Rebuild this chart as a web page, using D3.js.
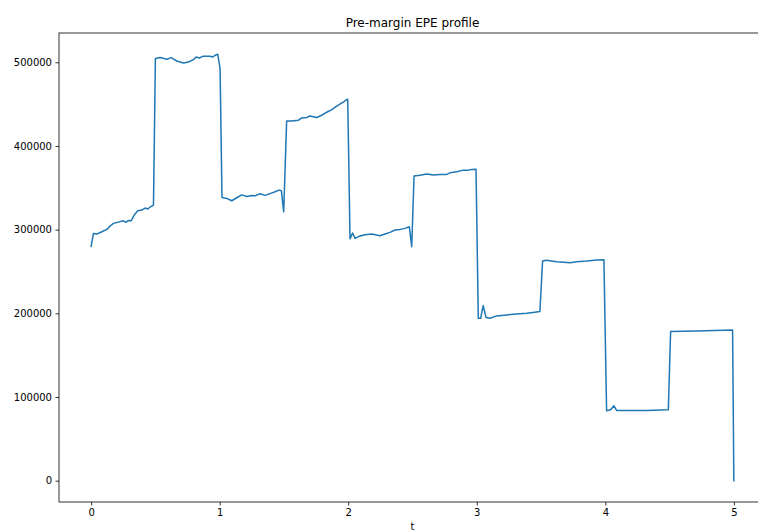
<!DOCTYPE html>
<html>
<head>
<meta charset="utf-8">
<script src="https://cdn.jsdelivr.net/npm/d3@7"></script>
<style>
  html, body { margin: 0; padding: 0; background: #fff; }
  svg { display: block; font-family: "DejaVu Sans", sans-serif; }
</style>
</head>
<body>
<svg id="chart" width="758" height="531"></svg>
<script>
// Pre-margin expected positive exposure over time
const tValues = [
  0.000, 0.018, 0.044, 0.083, 0.122, 0.148, 0.173, 0.207, 0.233, 0.251,
  0.270, 0.290, 0.311, 0.337, 0.363, 0.394, 0.420, 0.441, 0.461, 0.485,
  0.500, 0.537, 0.589, 0.622, 0.666, 0.718, 0.757, 0.796, 0.817, 0.842,
  0.868, 0.925, 0.946, 0.964, 0.985, 1.003,
  1.018, 1.055, 1.094, 1.133, 1.172, 1.211, 1.250, 1.275, 1.314, 1.353,
  1.392, 1.431, 1.462, 1.480, 1.498,
  1.521, 1.561, 1.613, 1.638, 1.677, 1.703, 1.755, 1.794, 1.833, 1.872,
  1.911, 1.941, 1.962, 1.980, 1.996,
  2.014, 2.034, 2.053, 2.092, 2.131, 2.183, 2.247, 2.286, 2.325, 2.364,
  2.403, 2.442, 2.475, 2.494,
  2.512, 2.558, 2.610, 2.662, 2.714, 2.766, 2.792, 2.844, 2.895, 2.934,
  2.960, 2.994,
  3.012, 3.030, 3.050, 3.072, 3.103, 3.155, 3.233, 3.310, 3.388, 3.453,
  3.491,
  3.512, 3.543, 3.621, 3.725, 3.777, 3.855, 3.932, 3.989,
  4.010, 4.041, 4.067, 4.088, 4.191, 4.321, 4.490,
  4.508, 4.710, 4.990, 5.000
];
const epeValues = [
  280000, 295500, 294700, 297500, 300300, 304300, 307500, 308700, 309900, 310600,
  308700, 311000, 310600, 317800, 322500, 323400, 325800, 324600, 327300, 329300,
  504400, 505600, 503600, 505600, 501500, 499100, 500300, 503200, 506300, 505100,
  507100, 507100, 506300, 508300, 509500, 492500,
  338300, 337300, 334500, 338100, 341500, 339700, 340900, 340400, 342800, 340900,
  343000, 345200, 347200, 346400, 321300,
  429800, 429800, 430800, 433500, 434000, 435900, 434000, 436700, 440300, 443500,
  447500, 450700, 452300, 454600, 455800,
  289000, 296000, 289600, 292500, 294000, 294700, 292700, 294700, 296700, 299500,
  300300, 301500, 303500, 279600,
  364000, 365000, 366400, 365200, 366000, 366000, 367900, 369100, 371100, 371100,
  371900, 372300,
  194100, 194100, 209200, 194900, 194100, 196900, 198100, 199300, 200100, 201300,
  202100,
  262500, 263300, 261700, 260500, 261700, 262500, 263700, 264000,
  83500, 84700, 89500, 83900, 83900, 83900, 84700,
  178200, 179000, 180200, 0
];
const xTicks = [0, 1, 2, 3, 4, 5];
const yTicks = [0, 100000, 200000, 300000, 400000, 500000];
const titleText = "Pre-margin EPE profile";
const xLabel = "t";

const data = tValues.map((t, i) => ({ t, v: epeValues[i] }));

const svg = d3.select("#chart");
const plot = { left: 59, top: 33, right: 766, bottom: 502 };

// 5% padding around the data extent on both axes
const tExt = d3.extent(tValues);
const vExt = d3.extent(epeValues);
const tPad = (tExt[1] - tExt[0]) * 0.05;
const vPad = (vExt[1] - vExt[0]) * 0.05;

const x = d3.scaleLinear()
  .domain([tExt[0] - tPad, tExt[1] + tPad])
  .range([plot.left, plot.right]);
const y = d3.scaleLinear()
  .domain([vExt[0] - vPad, vExt[1] + vPad])
  .range([plot.bottom, plot.top]);

// profile line
const line = d3.line().x(d => x(d.t)).y(d => y(d.v));
svg.append("path")
  .datum(data)
  .attr("fill", "none")
  .attr("stroke", "#1f77b4")
  .attr("stroke-width", 1.5)
  .attr("stroke-linejoin", "round")
  .attr("stroke-linecap", "square")
  .attr("d", line);

// axes
const xAxis = d3.axisBottom(x).tickValues(xTicks).tickFormat(d3.format("d"))
  .tickSizeInner(3.5).tickSizeOuter(0).tickPadding(3.5);
const yAxis = d3.axisLeft(y).tickValues(yTicks).tickFormat(d3.format("d"))
  .tickSizeInner(3.5).tickSizeOuter(0).tickPadding(3.5);

const gx = svg.append("g").attr("transform", `translate(0,${plot.bottom})`).call(xAxis);
const gy = svg.append("g").attr("transform", `translate(${plot.left},0)`).call(yAxis);
[gx, gy].forEach(g => {
  g.select(".domain").remove();
  g.selectAll(".tick line").attr("stroke", "#000").attr("stroke-width", 0.8);
  g.selectAll(".tick text").attr("fill", "#000").style("font-size", "10px")
    .style("font-family", "'DejaVu Sans', sans-serif");
});

// frame
svg.append("rect")
  .attr("x", plot.left).attr("y", plot.top)
  .attr("width", plot.right - plot.left).attr("height", plot.bottom - plot.top)
  .attr("fill", "none").attr("stroke", "#000").attr("stroke-width", 0.8);

// title and axis label
svg.append("text")
  .attr("x", (plot.left + plot.right) / 2).attr("y", 27)
  .attr("text-anchor", "middle")
  .style("font-size", "12px")
  .text(titleText);

svg.append("text")
  .attr("x", (plot.left + plot.right) / 2).attr("y", 530)
  .attr("text-anchor", "middle")
  .style("font-size", "10px")
  .text(xLabel);
</script>
</body>
</html>
